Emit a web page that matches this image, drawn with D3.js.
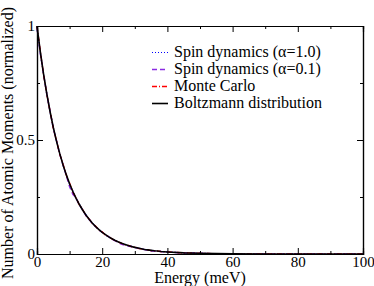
<!DOCTYPE html>
<html>
<head>
<script src="https://d3js.org/d3.v7.min.js"></script>
<style>
  body { margin: 0; background: white; }
  svg { font-family: 'Liberation Serif', 'DejaVu Serif', serif; }
  .axis path { stroke: black; stroke-width: 1.2px; }
  .axis line { stroke: black; stroke-width: 1px; }
  .axis text { font-size: 15px; fill: black; font-family: 'Liberation Serif', serif; }
  .curve { fill: none; }
</style>
</head>
<body>
<svg width="374" height="286"></svg>
<script>
// energy grid (meV)
var energy = [0,1,2,3,4,5,6,7,8,9,10,11,12,13,14,15,16,17,18,19,20,21,22,23,24,25,26,27,28,29,30,
  31,32,33,34,35,36,37,38,39,40,45,50,55,60,70,80,90,100];

// series
var spinA10 = [0.995,0.886,0.787,0.705,0.622,0.557,0.491,0.441,0.388,0.349,0.306,0.276,0.242,0.219,0.191,0.173,
  0.150,0.137,0.119,0.108,0.094,0.086,0.074,0.068,0.058,0.054,0.046,0.043,0.036,0.034,0.028,
  0.027,0.022,0.021,0.017,0.016,0.014,0.012,0.011,0.010,0.009,0.005,0.003,0.0015,0.0009,0.0003,0.0001,0.00004,0.00001];
var spinA01 = [0.990,0.880,0.792,0.700,0.628,0.550,0.497,0.436,0.392,0.343,0.295,0.262,0.246,0.214,0.195,0.168,
  0.154,0.132,0.121,0.104,0.096,0.083,0.076,0.065,0.058,0.049,0.042,0.038,0.035,0.032,0.029,
  0.025,0.023,0.019,0.016,0.013,0.013,0.012,0.011,0.009,0.008,0.005,0.003,0.0014,0.0008,0.0003,0.0001,0.00005,0.00001];
var monteCarlo = [1.000,0.892,0.788,0.701,0.627,0.552,0.496,0.437,0.393,0.345,0.311,0.272,0.246,0.215,0.195,0.169,
  0.153,0.133,0.122,0.105,0.097,0.083,0.076,0.066,0.060,0.052,0.047,0.041,0.038,0.032,0.030,
  0.025,0.023,0.020,0.018,0.015,0.014,0.013,0.011,0.010,0.009,0.005,0.003,0.0015,0.0009,0.0003,0.0001,0.00004,0.00001];
var boltzmann = [1.000,0.889,0.790,0.703,0.625,0.555,0.494,0.439,0.390,0.347,0.308,0.274,0.244,0.217,0.193,0.171,
  0.152,0.135,0.120,0.107,0.095,0.085,0.075,0.067,0.059,0.053,0.047,0.042,0.037,0.033,0.029,
  0.026,0.023,0.020,0.018,0.016,0.014,0.013,0.011,0.010,0.009,0.005,0.003,0.0015,0.0009,0.0003,0.0001,0.00004,0.00001];

var seriesNames = ["Spin dynamics (\u03b1=1.0)", "Spin dynamics (\u03b1=0.1)", "Monte Carlo", "Boltzmann distribution"];

var xMajor = [0,20,40,60,80,100];
var xMinor = [10,30,50,70,90];
var yMajor = [0,0.5,1];
var yMinor = [0.25,0.75];

var margin = {left: 37, right: 11, top: 26, bottom: 32};
var W = 374, H = 286;
var svg = d3.select("svg");

var x = d3.scaleLinear().domain([0,100]).range([margin.left, W - margin.right]);
var y = d3.scaleLinear().domain([0,1]).range([H - margin.bottom, margin.top]);

var series = [
  {name: seriesNames[0], values: spinA10, color: "#0000ff", dash: "1,2", width: 1.2},
  {name: seriesNames[1], values: spinA01, color: "#8a2be2", dash: "5,3", width: 1.4},
  {name: seriesNames[2], values: monteCarlo, color: "#ff0000", dash: "5,2,1,2", width: 1.3},
  {name: seriesNames[3], values: boltzmann, color: "#000000", dash: null, width: 1.6}
];

var line = d3.line()
  .x(function (d, i) { return x(energy[i]); })
  .y(function (d) { return y(d); });

// curves
svg.append("g").selectAll("path")
  .data(series)
  .enter()
  .append("path")
  .attr("class", "curve")
  .attr("d", function (s) { return line(s.values); })
  .attr("stroke", function (s) { return s.color; })
  .attr("stroke-width", function (s) { return s.width; })
  .attr("stroke-dasharray", function (s) { return s.dash; });

// axes, ticks pointing inward
function fmt(d) { return d; }
function addAxis(axis, tx, ty) {
  svg.append("g").attr("class", "axis")
    .attr("transform", "translate(" + tx + "," + ty + ")")
    .call(axis)
    .attr("font-family", null)
    .attr("font-size", null);
}
addAxis(d3.axisBottom(x).tickValues(xMajor).tickSize(-6).tickPadding(2).tickFormat(fmt), 0, y(0));
addAxis(d3.axisBottom(x).tickValues(xMinor).tickSize(-3).tickFormat(""), 0, y(0));
addAxis(d3.axisTop(x).tickValues(xMajor).tickSize(-6).tickFormat(""), 0, y(1));
addAxis(d3.axisTop(x).tickValues(xMinor).tickSize(-3).tickFormat(""), 0, y(1));
addAxis(d3.axisLeft(y).tickValues(yMajor).tickSize(-6).tickPadding(2).tickFormat(fmt), x(0), 0);
addAxis(d3.axisLeft(y).tickValues(yMinor).tickSize(-3).tickFormat(""), x(0), 0);
addAxis(d3.axisRight(y).tickValues(yMajor).tickSize(-6).tickFormat(""), x(100), 0);
addAxis(d3.axisRight(y).tickValues(yMinor).tickSize(-3).tickFormat(""), x(100), 0);

// axis titles
svg.append("text")
  .attr("x", (x(0) + x(100)) / 2)
  .attr("y", 283)
  .attr("text-anchor", "middle")
  .style("font-size", "16px")
  .text("Energy (meV)");
svg.append("text")
  .attr("transform", "translate(13," + ((y(0) + y(1)) / 2 + 3) + ") rotate(-90)")
  .attr("text-anchor", "middle")
  .style("font-size", "16px")
  .text("Number of Atomic Moments (normalized)");

// legend
var legend = svg.append("g").attr("transform", "translate(152,56.5)");
var rows = legend.selectAll("g")
  .data(series)
  .enter()
  .append("g")
  .attr("transform", function (s, i) { return "translate(0," + (i * 17) + ")"; });
rows.append("line")
  .attr("x1", 0).attr("x2", 16)
  .attr("y1", -4).attr("y2", -4)
  .attr("stroke", function (s) { return s.color; })
  .attr("stroke-width", function (s) { return s.width; })
  .attr("stroke-dasharray", function (s) { return s.dash; });
rows.append("text")
  .attr("x", 22)
  .attr("y", 0)
  .style("font-size", "16px")
  .text(function (s) { return s.name; });
</script>
</body>
</html>
